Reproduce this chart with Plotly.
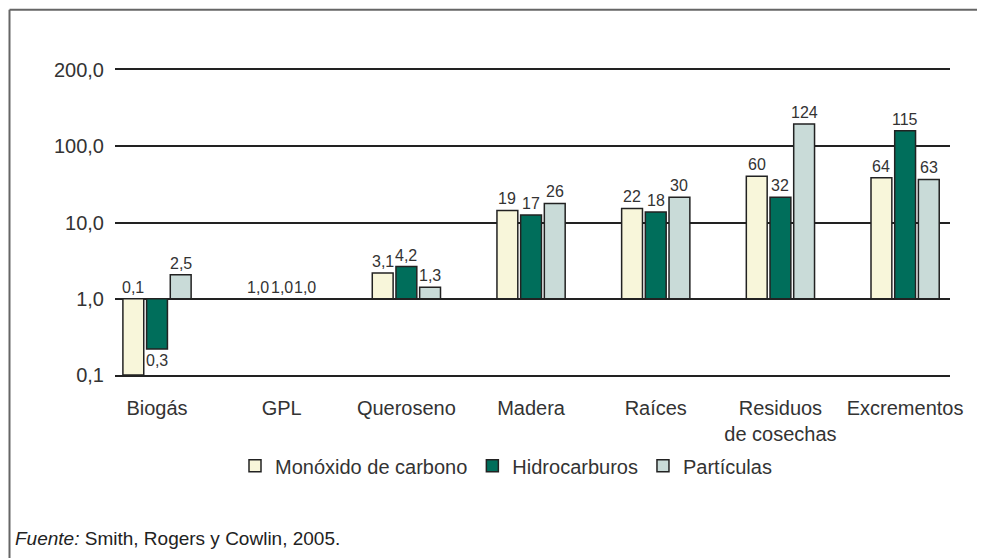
import math
import plotly.graph_objects as go

categories = ["Biogás", "GPL", "Queroseno", "Madera", "Raíces", "Residuos<br>de cosechas", "Excrementos"]
series_names = ["Monóxido de carbono", "Hidrocarburos", "Partículas"]

# bar heights (log scale, bars start at 1.0)
co_values = [0.1, 1.0, 2.17, 14.4, 15.3, 40.5, 38.5]
hc_values = [0.22, 1.0, 2.64, 12.5, 13.7, 21.5, 160]
pm_values = [2.06, 1.0, 1.41, 17.8, 21.5, 196, 36.7]

# printed labels
co_labels = ["0,1", "1,0", "3,1", "19", "22", "60", "64"]
hc_labels = ["0,3", "1,0", "4,2", "17", "18", "32", "115"]
pm_labels = ["2,5", "1,0", "1,3", "26", "30", "124", "63"]

y_tickvals = [0.1, 1, 10, 100, 1000]
y_ticktext = ["0,1", "1,0", "10,0", "100,0", "200,0"]

BASE = 1.0
colors = ["#F8F6DA", "#006E5B", "#C9DBD8"]
font_family = "Liberation Sans, Arial, sans-serif"
txt_color = "#333333"

fig = go.Figure()
all_values = [co_values, hc_values, pm_values]
all_labels = [co_labels, hc_labels, pm_labels]
for name, vals, col in zip(series_names, all_values, colors):
    fig.add_trace(go.Bar(
        name=name, x=categories, y=[v - BASE for v in vals], base=BASE,
        marker=dict(color=col, line=dict(color="#222222", width=1.5)),
        hoverinfo="skip",
    ))

# layout geometry (page has an 8px body margin)
OFF = 8
W, H = 985, 558
L = 115 - OFF
R = W - (950 - OFF)
T = 69.5 - OFF
B = H - (375.5 - OFF)
x_range = [-0.337, 6.36]
bargap, bargroupgap = 0.43, 0.12
plot_h = H - T - B
plot_w = W - L - R
cat_px = plot_w / (x_range[1] - x_range[0])
slot_px = cat_px * (1 - bargap) / 3


def px_x(page_x):
    return (page_x - OFF - L) / plot_w


def px_y(page_y):
    return (T + plot_h - (page_y - OFF)) / plot_h


# label placement style: which labels sit below the bar end
below_flags = [
    [False] * 7,
    [True] + [False] * 6,
    [False] * 7,
]

annotations = []
for k, (vals, labs, flags) in enumerate(zip(all_values, all_labels, below_flags)):
    for i, (v, lab, below) in enumerate(zip(vals, labs, flags)):
        if below:
            yv, anchor, ys = min(v, BASE), "top", -1
        else:
            yv, anchor, ys = max(v, BASE), "bottom", 1
        annotations.append(dict(
            x=i, y=math.log10(yv), xref="x", yref="y", text=lab, showarrow=False,
            xshift=(k - 1) * slot_px, yanchor=anchor, yshift=ys,
            font=dict(size=16, color=txt_color, family=font_family),
        ))

annotations.append(dict(
    x=px_x(13), y=px_y(540), xref="paper", yref="paper",
    xanchor="left", yanchor="middle", showarrow=False,
    text="<i>Fuente:</i> Smith, Rogers y Cowlin, 2005.",
    font=dict(size=19, color="#222222", family=font_family),
))

frame_x = px_x(9.5)
frame_top = (T + plot_h - 1) / plot_h
frame_bottom = -(B + 5) / plot_h
shapes = [
    dict(type="line", xref="paper", yref="paper", x0=frame_x, x1=frame_x, y0=frame_bottom, y1=frame_top,
         line=dict(color="#666666", width=2)),
    dict(type="line", xref="paper", yref="paper", x0=frame_x, x1=1.2, y0=frame_top, y1=frame_top,
         line=dict(color="#666666", width=2)),
]

fig.update_layout(
    width=W, height=H,
    margin=dict(l=L, r=R, t=T, b=B),
    paper_bgcolor="white", plot_bgcolor="white",
    barmode="group", bargap=bargap, bargroupgap=bargroupgap,
    font=dict(family=font_family, size=20, color=txt_color),
    showlegend=True,
    legend=dict(orientation="h", x=px_x(506), xanchor="center",
                y=px_y(447), yanchor="top",
                font=dict(size=20, color=txt_color), traceorder="normal"),
    annotations=annotations,
    shapes=shapes,
)
fig.update_xaxes(
    type="category", range=x_range, showgrid=False, ticks="",
    showline=True, linecolor="#222222", linewidth=1.5, mirror=True,
    ticklabelstandoff=14, tickfont=dict(size=20),
)
fig.update_yaxes(
    type="log", range=[-1, 3], tickvals=y_tickvals, ticktext=y_ticktext,
    showgrid=True, gridcolor="#222222", gridwidth=1.5, zeroline=False,
    showline=False, ticks="", ticklabelstandoff=10, tickfont=dict(size=20),
)

fig.write_html("out.html")
